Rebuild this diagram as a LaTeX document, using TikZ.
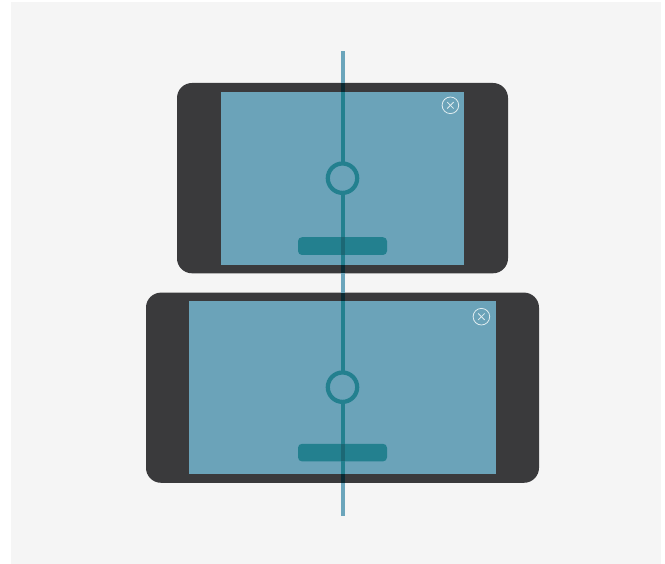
\documentclass[tikz,border=0pt]{standalone}
\definecolor{panelbg}{HTML}{F5F5F5}
\definecolor{phone}{HTML}{3A3A3C}
\definecolor{screenc}{HTML}{6BA3B9}
\definecolor{accent}{HTML}{23808F}
\definecolor{axisout}{HTML}{6BA5BB}
\definecolor{axisin}{HTML}{23808F}
\definecolor{axisdark}{HTML}{0B2A33}
\tikzset{
  phonebody/.style={fill=phone,rounded corners=15pt},
  screenarea/.style={fill=screenc},
  pill/.style={fill=accent,rounded corners=4pt},
  ring/.style={draw=axisin,line width=4.2pt,fill=screenc},
  closering/.style={draw=white!80!screenc,line width=0.8pt}
}
\begin{document}
\begin{tikzpicture}[x=1pt,y=-1pt]
\useasboundingbox (0,0) rectangle (665,564);
\fill[white] (0,0) rectangle (665,564);
\fill[panelbg] (11,2) rectangle (661,564);
% phones
\fill[phonebody] (177,83) rectangle (508,273.3);
\fill[phonebody] (146,292.6) rectangle (539,482.8);
\fill[screenarea] (221,91.7) rectangle (464,265);
\fill[screenarea] (189,301.2) rectangle (496,474);
% pills
\fill[pill] (298,237.2) rectangle (387,255);
\fill[pill] (298,443.8) rectangle (387,461.4);
% axis segments
\foreach \ya/\yb/\c in {51/83/axisout,83/91.7/axisdark,91.7/265/axisin,265/273.3/axisdark,273.3/292.6/axisout,292.6/301.2/axisdark,301.2/474/axisin,474/482.8/axisdark,482.8/516/axisout}
  \fill[\c] (340.7,\ya) rectangle (344.6,\yb);
\fill[black,opacity=.18] (340.7,237.2) rectangle (344.6,255);
\fill[black,opacity=.18] (340.7,443.8) rectangle (344.6,461.4);
% rings
\node[ring,circle,minimum size=29.4pt,inner sep=0pt,outer sep=0pt] (ringa) at (342.5,178.2) {};
\node[ring,circle,minimum size=29.4pt,inner sep=0pt,outer sep=0pt] (ringb) at (342.5,387.2) {};
% close icons
\foreach \cx/\cy in {450.4/105.3,481.4/316.7}{
  \draw[closering] (\cx,\cy) circle (8.3pt);
  \draw[closering] (\cx-3.2,\cy-3.2) -- (\cx+3.2,\cy+3.2);
  \draw[closering] (\cx-3.2,\cy+3.2) -- (\cx+3.2,\cy-3.2);
}
\end{tikzpicture}
\end{document}
